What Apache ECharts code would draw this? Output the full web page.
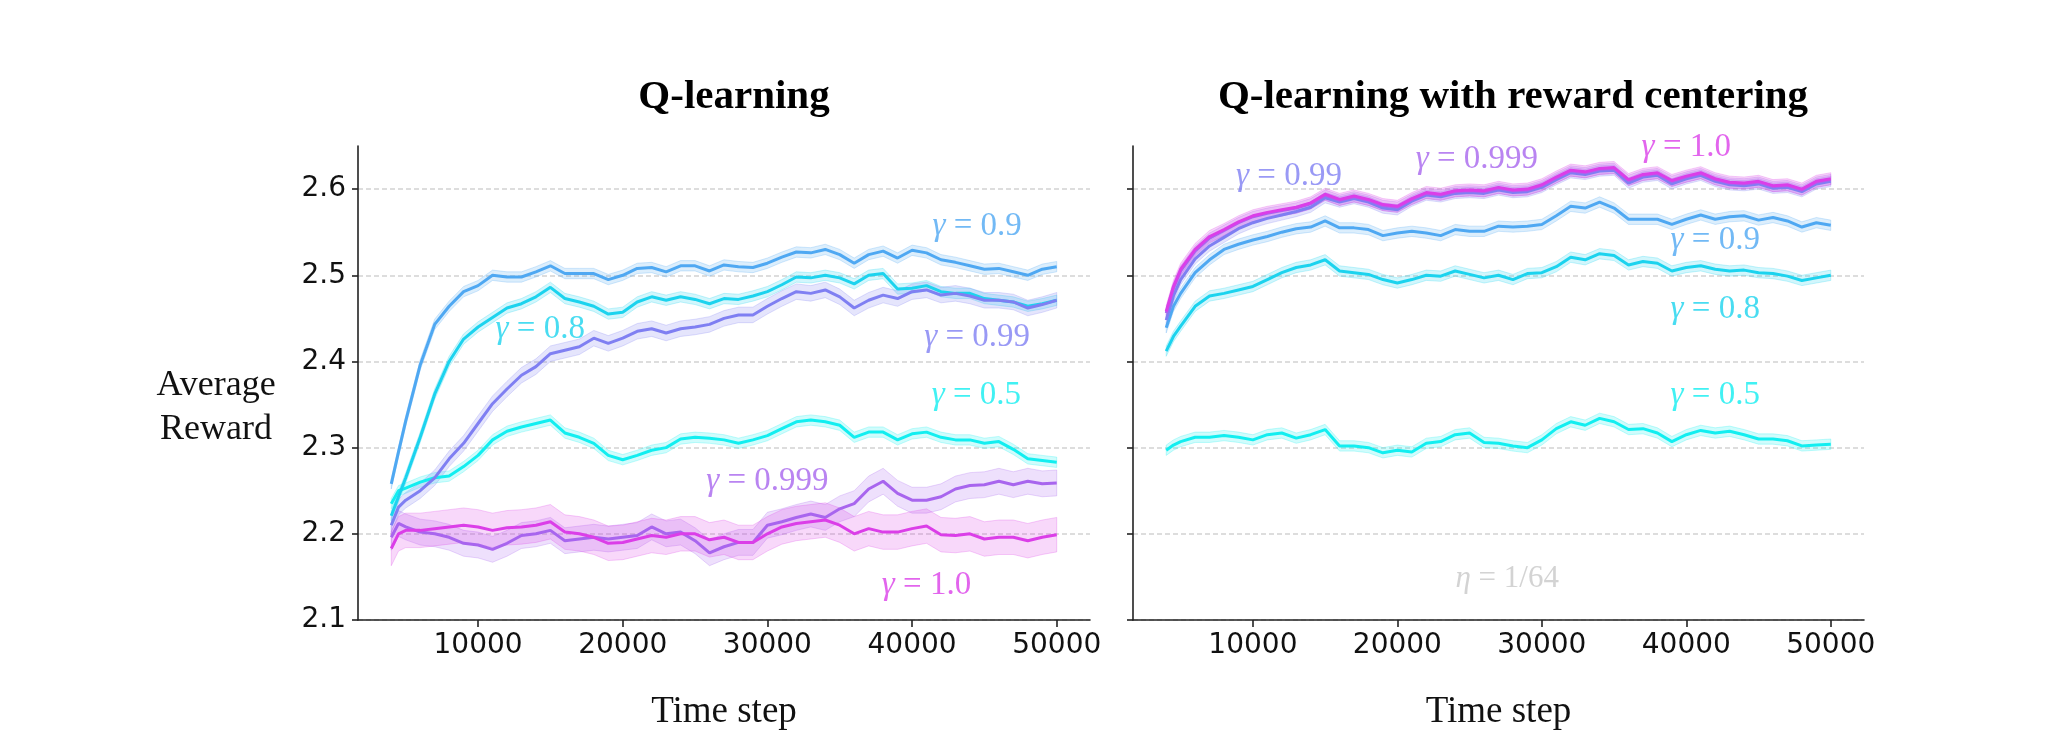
<!DOCTYPE html>
<html><head><meta charset="utf-8">
<script src="https://cdn.jsdelivr.net/npm/echarts@6/dist/echarts.min.js"></script>
<style>html,body{margin:0;padding:0;background:#fff}#c{width:2055px;height:751px}</style>
</head><body><div id="c"></div><script>
// ---------- data ----------
const steps = [4000,4500,5000,6000,7000,8000,9000,10000,11000,12000,13000,14000,15000,16000,17000,18000,19000,20000,
  21000,22000,23000,24000,25000,26000,27000,28000,29000,30000,31000,32000,33000,34000,35000,36000,37000,38000,39000,40000,
  41000,42000,43000,44000,45000,46000,47000,48000,49000,50000];
const gammaLabels = ['0.5','0.8','0.9','0.99','0.999','1.0'];
const xTicks = [10000,20000,30000,40000,50000];
const yTicks = [2.1,2.2,2.3,2.4,2.5,2.6];

// Q-learning (left)
const qlG05 = [2.235,2.250,2.253,2.260,2.265,2.267,2.278,2.291,2.309,2.319,2.324,2.328,2.332,2.317,2.312,2.305,2.291,2.286,
  2.291,2.297,2.300,2.310,2.312,2.311,2.309,2.305,2.309,2.314,2.322,2.330,2.332,2.330,2.326,2.312,2.318,2.318,2.309,2.316,
  2.318,2.312,2.309,2.309,2.305,2.307,2.298,2.287,2.285,2.283];
const qlG08 = [2.221,2.243,2.265,2.312,2.362,2.400,2.426,2.440,2.451,2.462,2.467,2.475,2.486,2.473,2.469,2.464,2.455,2.457,
  2.469,2.475,2.471,2.475,2.472,2.467,2.473,2.472,2.476,2.481,2.489,2.498,2.497,2.500,2.497,2.490,2.500,2.502,2.484,2.485,
  2.488,2.481,2.479,2.479,2.473,2.471,2.469,2.464,2.467,2.471];
const qlG09 = [2.258,2.295,2.331,2.396,2.443,2.464,2.481,2.488,2.500,2.498,2.498,2.504,2.511,2.502,2.502,2.502,2.495,2.500,
  2.508,2.509,2.504,2.511,2.511,2.505,2.512,2.510,2.509,2.514,2.521,2.527,2.526,2.530,2.524,2.514,2.524,2.528,2.520,2.529,
  2.526,2.518,2.515,2.511,2.507,2.508,2.504,2.500,2.507,2.510];
const qlG099 = [2.210,2.231,2.239,2.250,2.265,2.287,2.305,2.328,2.351,2.368,2.384,2.394,2.409,2.413,2.417,2.427,2.421,2.427,
  2.435,2.438,2.433,2.438,2.440,2.443,2.450,2.454,2.454,2.464,2.473,2.481,2.479,2.483,2.475,2.462,2.471,2.477,2.473,2.481,
  2.483,2.477,2.479,2.476,2.471,2.471,2.469,2.462,2.466,2.471];
const qlG0999 = [2.196,2.212,2.208,2.202,2.200,2.196,2.189,2.187,2.182,2.189,2.198,2.200,2.204,2.192,2.194,2.196,2.194,2.196,
  2.198,2.208,2.200,2.202,2.192,2.178,2.185,2.190,2.190,2.210,2.214,2.219,2.223,2.219,2.229,2.235,2.252,2.261,2.247,2.239,
  2.239,2.243,2.252,2.256,2.257,2.261,2.257,2.261,2.258,2.259];
const qlG10 = [2.183,2.200,2.204,2.204,2.206,2.208,2.210,2.208,2.204,2.207,2.208,2.210,2.214,2.202,2.200,2.196,2.189,2.190,
  2.194,2.198,2.196,2.200,2.200,2.193,2.196,2.190,2.190,2.200,2.208,2.212,2.214,2.216,2.210,2.200,2.206,2.202,2.202,2.206,
  2.209,2.199,2.198,2.200,2.194,2.196,2.196,2.192,2.196,2.199];
const qlBandHalf = [0.006,0.006,0.006,0.009,0.015,0.02];

// Q-learning with reward centering (right)
const rcG05 = [2.297,2.303,2.307,2.312,2.312,2.314,2.312,2.309,2.315,2.317,2.311,2.315,2.321,2.302,2.302,2.300,2.294,2.297,
  2.295,2.305,2.307,2.315,2.317,2.306,2.305,2.302,2.300,2.309,2.322,2.330,2.326,2.334,2.330,2.321,2.322,2.317,2.307,2.315,
  2.320,2.317,2.319,2.315,2.310,2.310,2.308,2.302,2.303,2.304];
const rcG08 = [2.412,2.429,2.441,2.464,2.476,2.479,2.483,2.487,2.495,2.503,2.509,2.512,2.518,2.505,2.503,2.501,2.495,2.491,
  2.495,2.500,2.499,2.505,2.501,2.497,2.500,2.495,2.502,2.503,2.510,2.521,2.518,2.525,2.523,2.512,2.516,2.514,2.505,2.509,
  2.511,2.507,2.505,2.506,2.503,2.502,2.499,2.494,2.497,2.500];
const rcG09 = [2.439,2.464,2.479,2.503,2.518,2.530,2.536,2.541,2.545,2.550,2.554,2.556,2.563,2.555,2.555,2.553,2.546,2.549,
  2.551,2.549,2.546,2.553,2.551,2.551,2.557,2.556,2.557,2.559,2.569,2.580,2.578,2.585,2.578,2.565,2.565,2.565,2.559,2.565,
  2.570,2.565,2.568,2.569,2.564,2.567,2.563,2.556,2.561,2.558];
const rcG099 = [2.448,2.476,2.495,2.519,2.534,2.544,2.554,2.561,2.566,2.570,2.574,2.579,2.590,2.585,2.589,2.585,2.578,2.576,
  2.586,2.593,2.591,2.595,2.596,2.595,2.599,2.596,2.597,2.602,2.611,2.619,2.617,2.621,2.622,2.607,2.614,2.616,2.606,2.612,
  2.616,2.609,2.605,2.604,2.606,2.601,2.602,2.597,2.606,2.609];
const rcG0999 = [2.456,2.485,2.505,2.528,2.543,2.552,2.561,2.568,2.572,2.575,2.578,2.583,2.593,2.587,2.591,2.587,2.581,2.579,
  2.588,2.595,2.593,2.597,2.598,2.597,2.601,2.598,2.599,2.604,2.613,2.621,2.619,2.623,2.624,2.610,2.616,2.618,2.609,2.614,
  2.618,2.611,2.607,2.606,2.608,2.603,2.604,2.599,2.608,2.611];
const rcG10 = [2.458,2.487,2.507,2.530,2.545,2.553,2.562,2.569,2.573,2.576,2.579,2.584,2.594,2.588,2.592,2.588,2.582,2.580,
  2.589,2.596,2.594,2.598,2.599,2.598,2.602,2.599,2.600,2.605,2.614,2.622,2.620,2.624,2.625,2.611,2.617,2.619,2.610,2.615,
  2.619,2.612,2.608,2.607,2.609,2.604,2.605,2.600,2.609,2.612];
const rcBandHalf = [0.006,0.006,0.006,0.006,0.006,0.007];

// annotation positions (data coordinates) for the gamma labels
const qlLabelX = [44450,14300,44500,44500,30000,41000];
const qlLabelY = [2.361,2.437,2.557,2.428,2.261,2.140];
const rcLabelX = [42000,42000,42000,12500,25500,40000];
const rcLabelY = [2.361,2.460,2.540,2.615,2.635,2.648];
const etaSymbol = 'η';
const etaValue = '1/64';
const etaPos = [27600, 2.148];

// ---------- style ----------
const colors = ['#12eef0','#1cd3ee','#4fa8f2','#7f7ff2','#a865ee','#db3ee8'];
const SERIF = '"Liberation Serif","DejaVu Serif",serif';
const SANS = '"DejaVu Sans",sans-serif';
const NB = '\u00a0';

function rgba(hex, a) {
  const n = parseInt(hex.slice(1), 16);
  return 'rgba(' + ((n>>16)&255) + ',' + ((n>>8)&255) + ',' + (n&255) + ',' + a + ')';
}

const qlSeriesVals = [qlG05,qlG08,qlG09,qlG099,qlG0999,qlG10];
const rcSeriesVals = [rcG05,rcG08,rcG09,rcG099,rcG0999,rcG10];

function panelSeries(p, valsList, halfList) {
  const out = [];
  valsList.forEach((vals, i) => {
    const hw = halfList[i];
    const lower = vals.map(v => v - hw);
    const upper = vals.map(v => v + hw);
    out.push({
      type:'custom', xAxisIndex:p, yAxisIndex:p, silent:true, z:1,
      data: steps.map((s,k)=>[s, lower[k], upper[k]]),
      encode:{x:0, y:[1,2]},
      renderItem: (params, api) => {
        if (params.dataIndex !== 0) return null;
        const top = [], bot = [];
        for (let k = 0; k < steps.length; k++) {
          top.push(api.coord([steps[k], upper[k]]));
          bot.push(api.coord([steps[k], lower[k]]));
        }
        return {type:'polygon', shape:{points: top.concat(bot.reverse())},
                style:{fill: rgba(colors[i], 0.2), stroke: rgba(colors[i], 0.25), lineWidth:1}};
      }
    });
  });
  valsList.forEach((vals, i) => {
    out.push({
      type:'line', xAxisIndex:p, yAxisIndex:p, symbol:'none', silent:true,
      data: steps.map((s,k)=>[s, vals[k]]),
      lineStyle:{color:colors[i], width:3}, z:3
    });
  });
  return out;
}

function labelSeries(p, xs, ys) {
  return {
    type:'scatter', xAxisIndex:p, yAxisIndex:p, symbolSize:0, silent:true, z:5,
    data: gammaLabels.map((g,i)=>({
      value:[xs[i], ys[i]],
      label:{show:true, position:'inside', color:colors[i],
        formatter:'{g|γ}{t|' + NB + '=' + NB + g + '}',
        rich:{ g:{fontFamily:SERIF, fontStyle:'italic', fontSize:33, color:colors[i]},
               t:{fontFamily:SERIF, fontSize:33, color:colors[i]} } }
    }))
  };
}

const grids = [
  {left:358, top:146, width:732, height:474},
  {left:1133, top:146, width:731, height:474}
];

function xAxisFor(p) {
  return {
    gridIndex:p, type:'value', min:1700, max:52300,
    axisLine:{show:true, lineStyle:{color:'#222', width:1.6}},
    axisTick:{show:true, length:7, customValues:xTicks, lineStyle:{color:'#222', width:1.6}},
    axisLabel:{customValues:xTicks, fontFamily:SANS, fontSize:28, color:'#111', margin:12,
      formatter:(v)=>String(v)},
    splitLine:{show:false},
    name:'Time step', nameLocation:'middle', nameGap:74,
    nameTextStyle:{fontFamily:SERIF, fontSize:37, color:'#111'}
  };
}
function yAxisFor(p) {
  return {
    gridIndex:p, type:'value', min:2.1, max:2.65,
    axisLine:{show:true, lineStyle:{color:'#222', width:1.6}},
    axisTick:{show:true, length:6, customValues:yTicks, lineStyle:{color:'#222', width:1.6}},
    axisLabel:{show:p===0, customValues:yTicks, fontFamily:SANS, fontSize:28, color:'#111', margin:12,
      formatter:(v)=>v.toFixed(1)},
    splitLine:{show:true, lineStyle:{color:'#d2d2d2', width:1.5, type:[5,3]}}
  };
}

const option = {
  animation:false,
  backgroundColor:'#fff',
  title:[
    {text:'Q-learning', left:729, top:72, textAlign:'center',
     textStyle:{fontFamily:SERIF, fontSize:41, fontWeight:'bold', color:'#000'}},
    {text:'Q-learning with reward centering', left:1508, top:72, textAlign:'center',
     textStyle:{fontFamily:SERIF, fontSize:41, fontWeight:'bold', color:'#000'}}
  ],
  grid:grids,
  xAxis:[xAxisFor(0), xAxisFor(1)],
  yAxis:[yAxisFor(0), yAxisFor(1)],
  graphic:[
    {type:'text', x:216, y:408, silent:true,
     style:{text:'Average\nReward', font:'36px "Liberation Serif"', lineHeight:44, fill:'#111', align:'center', verticalAlign:'middle'}}
  ],
  series:[
    ...panelSeries(0, qlSeriesVals, qlBandHalf),
    ...panelSeries(1, rcSeriesVals, rcBandHalf),
    labelSeries(0, qlLabelX, qlLabelY),
    labelSeries(1, rcLabelX, rcLabelY),
    {type:'scatter', xAxisIndex:1, yAxisIndex:1, symbolSize:0, silent:true, z:5,
     data:[{value:etaPos, label:{show:true, position:'inside',
       formatter:'{g|' + etaSymbol + '}{t|' + NB + '=' + NB + etaValue + '}',
       rich:{g:{fontFamily:SERIF, fontStyle:'italic', fontSize:31, color:'#c8c8c8'},
             t:{fontFamily:SERIF, fontSize:31, color:'#c8c8c8'}}}}]}
  ]
};
const chart = echarts.init(document.getElementById('c'), null, {renderer:'canvas'});
chart.setOption(option);
</script></body></html>
